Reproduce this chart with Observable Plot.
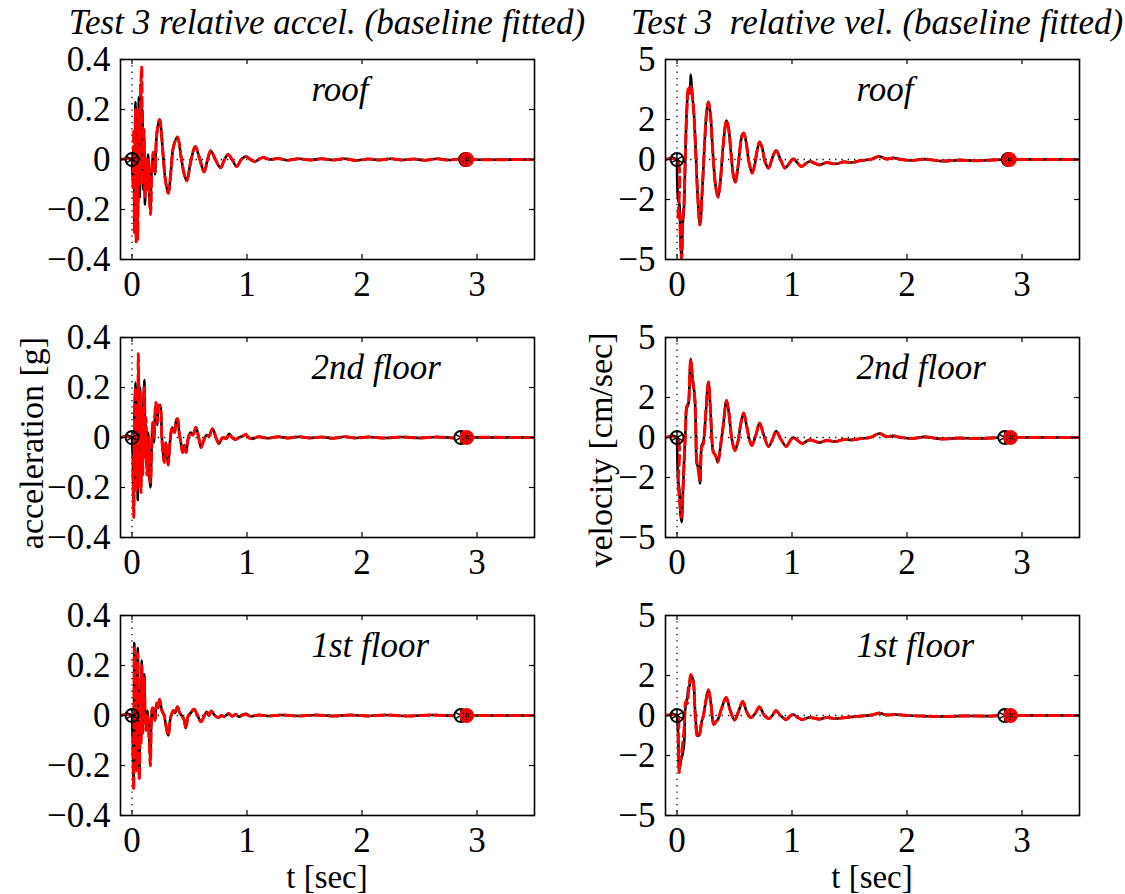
<!DOCTYPE html>
<html>
<head>
<meta charset="utf-8">
<script src="https://cdn.jsdelivr.net/npm/d3@7"></script>
<script src="https://cdn.jsdelivr.net/npm/@observablehq/plot@0.6"></script>
<style>
  body { margin: 0; background: #fff; }
  #fig { position: relative; width: 1125px; height: 894px; overflow: hidden; background: #fff; font-family: "Liberation Serif", serif; }
  .txt { position: absolute; font-size: 34px; line-height: 24px; white-space: pre; color: #000; font-family: "Liberation Serif", serif; }
  .xl { font-size: 33px; }
  .rot { line-height: 28px; }
  .ttl { font-size: 35px; line-height: 30px; font-style: italic; }
  .pan { position: absolute; }
  .pan text { font-family: "Liberation Serif", serif; }
</style>
</head>
<body>
<div id="fig"></div>
<script>
// ---------------- data (t [sec], value) ----------------
const xTicks = [0, 1, 2, 3];
const accTicks = [-0.4, -0.2, 0, 0.2, 0.4];
const velTicks = [-5, -2, 0, 2, 5];
const floorNames = ["roof", "2nd floor", "1st floor"];
const titles = ["Test 3 relative accel. (baseline fitted)", "Test 3  relative vel. (baseline fitted)"];
const yLabels = ["acceleration [g]", "velocity [cm/sec]"];
const xLabel = "t [sec]";

// end-of-record markers (t) : black / red
const accEndBlack = [2.90, 2.86, 2.86];
const accEndRed = [2.91, 2.91, 2.91];
const velEndBlack = [2.88, 2.85, 2.85];
const velEndRed = [2.89, 2.90, 2.90];

// ---- roof acceleration [g]
const roofAccEarlyBlack = [[0,0],[0.008,-0.1],[0.016,0.05],[0.022,-0.28],[0.03,0.23],[0.037,-0.3],[0.045,0.1],[0.052,-0.2],[0.06,0.25],[0.068,-0.15],[0.076,0.3],[0.083,0.05],[0.09,0.2],[0.097,-0.12],[0.105,0.08],[0.113,-0.18],[0.12,-0.02],[0.13,-0.1],[0.14,0.02],[0.15,-0.12],[0.16,-0.2],[0.17,-0.05],[0.185,0.02],[0.2,-0.06]];
const roofAccEarlyRed = [[-0.1,0],[0,0],[0.008,-0.12],[0.015,0.12],[0.022,-0.3],[0.03,0.2],[0.036,-0.33],[0.043,0.05],[0.05,-0.32],[0.058,0.2],[0.066,-0.1],[0.075,0.25],[0.084,0.37],[0.09,0.1],[0.097,-0.1],[0.105,0.12],[0.113,-0.15],[0.122,0.0],[0.132,-0.12],[0.142,0.0],[0.152,-0.15],[0.162,-0.22],[0.172,-0.05],[0.185,0.03],[0.2,-0.05]];
const roofAccTail = [[0.215,0.1],[0.24,0.16],[0.27,0.02],[0.29,-0.08],[0.315,-0.135],[0.34,-0.04],[0.36,0.05],[0.395,0.09],[0.43,0.0],[0.455,-0.06],[0.477,-0.085],[0.51,-0.01],[0.55,0.052],[0.59,0.0],[0.627,-0.05],[0.655,-0.005],[0.685,0.035],[0.725,0],[0.77,-0.033],[0.8,-0.005],[0.835,0.02],[0.87,0],[0.91,-0.028],[0.95,0],[0.99,0.012],[1.03,0],[1.07,-0.008],[1.1,0],[1.14,0.008],[1.2,0],[1.27,0.004],[1.35,-0.003],[1.45,0.003],[1.55,-0.002],[1.65,0.003],[1.75,-0.002],[1.85,0.003],[1.95,-0.004],[2.05,0.002],[2.15,-0.002],[2.25,0.003],[2.35,-0.002],[2.45,0.002],[2.55,-0.003],[2.65,0.003],[2.75,-0.002],[2.85,0.002],[2.92,0],[3.5,0]];

// ---- 2nd floor acceleration [g]
const fl2AccEarlyBlack = [[0,0],[0.008,-0.1],[0.015,-0.3],[0.022,0.1],[0.03,0.22],[0.036,-0.2],[0.043,0.15],[0.05,-0.25],[0.057,0.28],[0.064,0.0],[0.07,0.2],[0.078,-0.19],[0.086,0.12],[0.093,-0.1],[0.1,0.15],[0.107,0.23],[0.115,-0.05],[0.122,0.05],[0.13,-0.12],[0.14,0.02],[0.15,-0.15],[0.16,-0.2],[0.17,-0.05],[0.18,0.05],[0.19,-0.02],[0.2,0.08],[0.208,0.135],[0.22,0.05],[0.23,0.12],[0.245,0.13],[0.26,0.0],[0.28,-0.09]];
const fl2AccEarlyRed = [[-0.1,0],[0,0],[0.008,-0.15],[0.015,-0.32],[0.022,0.05],[0.03,0.2],[0.037,-0.22],[0.045,0.1],[0.05,-0.2],[0.055,0.335],[0.062,0.05],[0.07,0.18],[0.078,-0.22],[0.086,0.1],[0.093,-0.15],[0.1,0.12],[0.107,0.2],[0.115,-0.08],[0.122,0.08],[0.13,-0.15],[0.14,0.0],[0.15,-0.12],[0.16,-0.18],[0.17,-0.06],[0.18,0.06],[0.19,0.0],[0.2,0.1],[0.208,0.14],[0.22,0.06],[0.23,0.13],[0.245,0.12],[0.26,-0.01],[0.28,-0.1]];
const fl2AccTail = [[0.295,-0.02],[0.305,-0.06],[0.315,-0.11],[0.33,-0.02],[0.35,0.04],[0.37,0.02],[0.385,0.07],[0.396,0.075],[0.41,0.02],[0.425,-0.02],[0.44,-0.06],[0.455,-0.03],[0.47,-0.06],[0.49,0.0],[0.51,0.02],[0.53,0.01],[0.555,0.04],[0.58,0.0],[0.6,-0.04],[0.625,-0.01],[0.65,0.01],[0.67,0.005],[0.7,0.035],[0.73,0.0],[0.757,-0.025],[0.78,-0.005],[0.8,0.0],[0.82,-0.005],[0.845,0.015],[0.87,0.0],[0.9,-0.008],[0.93,0],[0.96,0.005],[0.99,0.012],[1.02,-0.002],[1.05,-0.005],[1.1,0.003],[1.18,-0.003],[1.27,0.003],[1.36,-0.002],[1.45,0.003],[1.55,-0.002],[1.65,0.002],[1.75,-0.003],[1.85,0.003],[1.95,-0.002],[2.05,0.002],[2.2,-0.002],[2.35,0.002],[2.5,-0.002],[2.65,0.002],[2.8,-0.002],[2.88,0],[3.5,0]];

// ---- 1st floor acceleration [g]
const fl1AccEarlyBlack = [[0,0],[0.008,-0.12],[0.015,-0.28],[0.02,0.29],[0.027,-0.1],[0.033,0.15],[0.04,-0.2],[0.05,0.27],[0.057,-0.05],[0.064,-0.24],[0.072,0.1],[0.078,-0.1],[0.085,0.22],[0.092,-0.05],[0.1,0.05],[0.107,0.165],[0.115,0.0],[0.125,-0.05],[0.135,0.02],[0.145,-0.05],[0.153,-0.12],[0.16,-0.18],[0.168,-0.02]];
const fl1AccEarlyRed = [[-0.1,0],[0,0],[0.008,-0.15],[0.015,-0.3],[0.02,0.27],[0.027,-0.12],[0.033,0.12],[0.04,-0.22],[0.05,0.25],[0.057,-0.08],[0.064,-0.26],[0.072,0.08],[0.078,-0.12],[0.085,0.2],[0.092,-0.08],[0.1,0.06],[0.107,0.15],[0.115,-0.02],[0.125,-0.06],[0.135,0.0],[0.145,-0.06],[0.153,-0.14],[0.16,-0.2],[0.168,-0.03]];
const fl1AccTail = [[0.178,0.03],[0.19,0.02],[0.2,-0.02],[0.215,0.05],[0.228,0.03],[0.24,0.065],[0.26,0.02],[0.28,0.0],[0.295,-0.04],[0.315,-0.08],[0.335,-0.01],[0.36,0.02],[0.375,0.01],[0.395,0.035],[0.415,0.01],[0.44,-0.005],[0.455,-0.02],[0.468,-0.05],[0.49,0.0],[0.51,0.01],[0.54,0.025],[0.57,0.0],[0.6,-0.025],[0.63,0.0],[0.65,0.015],[0.67,0.0],[0.69,0.018],[0.72,0.0],[0.75,-0.008],[0.78,0.0],[0.8,-0.005],[0.84,0.008],[0.87,-0.003],[0.9,0.004],[0.93,-0.005],[0.96,0.002],[0.99,0.006],[1.03,-0.003],[1.1,0.002],[1.2,-0.002],[1.3,0.002],[1.45,-0.002],[1.6,0.002],[1.75,-0.002],[1.9,0.002],[2.05,-0.002],[2.2,0.002],[2.4,-0.002],[2.6,0.002],[2.8,-0.001],[2.88,0],[3.5,0]];

// ---- roof velocity [cm/sec]
const roofVelEarlyBlack = [[0,0],[0.01,-2.0],[0.02,-2.2],[0.03,-3.8],[0.04,-4.95],[0.05,-3.2],[0.06,-2.5],[0.07,-0.5],[0.085,2.5],[0.1,3.5],[0.112,3.6],[0.12,4.23],[0.13,3.4],[0.145,2.5],[0.16,0.8]];
const roofVelEarlyRed = [[-0.1,0],[0,0],[0.01,-2.9],[0.02,-2.6],[0.03,-4.0],[0.04,-5.0],[0.05,-3.0],[0.06,-2.3],[0.07,-0.4],[0.085,2.4],[0.1,3.6],[0.112,3.3],[0.125,3.7],[0.135,3.1],[0.145,2.4],[0.16,0.8]];
const roofVelTail = [[0.18,-1.8],[0.2,-3.27],[0.22,-1.5],[0.24,0.8],[0.26,2.5],[0.273,2.87],[0.29,2.3],[0.31,0.5],[0.335,-1.3],[0.356,-1.88],[0.375,-1.2],[0.4,0.6],[0.42,1.7],[0.431,1.95],[0.45,1.5],[0.47,0.3],[0.49,-0.8],[0.506,-1.13],[0.525,-0.6],[0.545,0.4],[0.565,1.2],[0.58,1.32],[0.6,0.9],[0.625,-0.1],[0.653,-0.68],[0.675,-0.3],[0.695,0.4],[0.718,0.87],[0.74,0.6],[0.765,-0.1],[0.796,-0.43],[0.83,0.1],[0.862,0.45],[0.9,0.0],[0.94,-0.43],[0.975,-0.2],[1.01,0.03],[1.045,-0.15],[1.08,-0.35],[1.15,-0.1],[1.24,-0.27],[1.3,-0.15],[1.38,-0.22],[1.45,-0.12],[1.52,-0.15],[1.6,-0.05],[1.68,0.0],[1.76,0.15],[1.82,0.03],[1.88,0.08],[1.95,0.0],[2.05,-0.05],[2.15,0.02],[2.3,-0.08],[2.45,-0.03],[2.6,-0.06],[2.75,-0.02],[2.88,0],[3.5,0]];

// ---- 2nd floor velocity [cm/sec]
const fl2VelEarlyBlack = [[0,0],[0.01,-2.15],[0.02,-2.6],[0.03,-3.8],[0.04,-4.23],[0.05,-3.0],[0.063,-1.0],[0.075,0.5],[0.083,1.43],[0.1,1.7],[0.11,3.0],[0.12,3.93],[0.135,3.0],[0.155,2.0],[0.165,0.0],[0.172,-1.3],[0.185,-1.5],[0.2,-2.3],[0.215,-0.4],[0.23,-0.2]];
const fl2VelEarlyRed = [[-0.1,0],[0,0],[0.01,-2.4],[0.02,-2.9],[0.03,-3.6],[0.04,-4.0],[0.05,-2.8],[0.063,-1.2],[0.075,0.4],[0.083,1.5],[0.1,1.8],[0.11,3.1],[0.12,3.9],[0.135,2.9],[0.155,1.9],[0.165,-0.1],[0.172,-1.2],[0.185,-1.6],[0.2,-2.2],[0.215,-0.5],[0.23,-0.3]];
const fl2VelTail = [[0.25,1.2],[0.273,2.77],[0.29,1.5],[0.305,-0.2],[0.316,-0.73],[0.335,-0.9],[0.356,-1.23],[0.38,-0.35],[0.4,0.5],[0.431,1.85],[0.45,1.3],[0.475,0.0],[0.503,-0.65],[0.53,-0.2],[0.555,0.7],[0.58,1.22],[0.605,0.6],[0.63,-0.1],[0.65,-0.4],[0.685,0.1],[0.718,0.72],[0.75,0.2],[0.796,-0.45],[0.83,-0.1],[0.862,0.32],[0.9,-0.05],[0.95,-0.45],[0.98,-0.2],[1.01,0.0],[1.05,-0.15],[1.09,-0.3],[1.15,-0.12],[1.24,-0.25],[1.3,-0.15],[1.38,-0.2],[1.45,-0.1],[1.52,-0.12],[1.6,-0.05],[1.68,0.0],[1.76,0.2],[1.82,0.05],[1.88,0.08],[1.95,0.0],[2.05,-0.05],[2.15,0.03],[2.3,-0.07],[2.45,-0.03],[2.6,-0.05],[2.75,-0.02],[2.85,0],[3.5,0]];

// ---- 1st floor velocity [cm/sec]
const fl1VelEarlyBlack = [[0,0],[0.01,-1.0],[0.02,-2.7],[0.03,-2.4],[0.04,-2.1],[0.05,-1.9],[0.063,-1.3],[0.07,0.2],[0.078,0.6],[0.09,0.9],[0.1,1.4],[0.11,1.5],[0.12,2.0],[0.14,1.8],[0.155,0.5],[0.165,-0.4],[0.178,-1.0]];
const fl1VelEarlyRed = [[-0.1,0],[0,0],[0.01,-1.3],[0.02,-2.85],[0.03,-2.2],[0.04,-1.9],[0.05,-1.4],[0.063,-0.6],[0.07,0.5],[0.078,0.73],[0.09,0.6],[0.1,1.2],[0.11,1.7],[0.12,2.05],[0.14,1.7],[0.155,0.3],[0.165,-0.6],[0.178,-1.05]];
const fl1VelTail = [[0.19,-1.0],[0.2,-0.85],[0.215,-0.3],[0.23,0.0],[0.25,0.7],[0.273,1.28],[0.295,0.6],[0.32,-0.45],[0.34,-0.3],[0.356,-0.2],[0.39,0.4],[0.428,0.9],[0.46,0.3],[0.5,-0.23],[0.535,0.2],[0.572,0.7],[0.605,0.2],[0.64,-0.1],[0.68,0.1],[0.716,0.43],[0.76,0.0],[0.8,-0.15],[0.835,0.05],[0.86,0.25],[0.9,0.0],[0.95,-0.2],[0.98,-0.05],[1.01,0.05],[1.05,-0.1],[1.09,-0.2],[1.15,-0.1],[1.24,-0.18],[1.3,-0.1],[1.38,-0.15],[1.5,-0.08],[1.6,-0.03],[1.7,0.03],[1.76,0.12],[1.82,0.03],[1.9,0.05],[2.0,0.0],[2.15,-0.03],[2.3,-0.05],[2.5,-0.02],[2.7,-0.03],[2.85,0],[3.5,0]];

// ---------------- layout ----------------
const FW = 414, FH = 200;
const colLeft = [120, 665];
const rowTop = [59, 337, 615];
const mL = 118, mR = 12, mT = 14, mB = 52;
const SERIF = "Liberation Serif";
const TICKFS = 35;

const fig = document.getElementById("fig");
const minusFmt = d => (d < 0 ? "\u2212" + String(Math.abs(d)) : String(d));

function panel(col, row, black, red, yDomain, yTicks, endB, endR, name) {
  const tx = d => d[0], ty = d => d[1];
  const startPt = [[0, 0]];
  const endBPt = [[endB, 0]];
  const endRPt = [[endR, 0]];
  const p = Plot.plot({
    width: mL + FW + mR,
    height: mT + FH + mB,
    marginLeft: mL, marginRight: mR, marginTop: mT, marginBottom: mB,
    style: {fontFamily: SERIF, fontSize: TICKFS + "px", background: "transparent", overflow: "visible", color: "black"},
    x: {domain: [-0.1, 3.5]},
    y: {domain: yDomain},
    marks: [
      Plot.ruleY([0], {stroke: "black", strokeWidth: 1.3, strokeDasharray: "1.3,5"}),
      Plot.ruleX([0], {stroke: "black", strokeWidth: 1.3, strokeDasharray: "1.3,5"}),
      Plot.line(black, {x: tx, y: ty, stroke: "black", strokeWidth: 2.6, curve: "catmull-rom", clip: true}),
      Plot.line(red, {x: tx, y: ty, stroke: "#ff0000", strokeWidth: 3, strokeDasharray: "10,5", curve: "catmull-rom", clip: true}),
      // start marker (black circle + asterisk)
      Plot.dot(startPt, {x: tx, y: ty, r: 6.5, stroke: "black", strokeWidth: 2, fill: "none"}),
      Plot.dot(startPt, {x: tx, y: ty, r: 5.5, symbol: "asterisk", stroke: "black", strokeWidth: 1.4}),
      // end markers
      Plot.dot(endBPt, {x: tx, y: ty, r: 6.5, stroke: "black", strokeWidth: 2, fill: "white"}),
      Plot.dot(endBPt, {x: tx, y: ty, r: 5.5, symbol: "asterisk", stroke: "black", strokeWidth: 1.4}),
      Plot.dot(endRPt, {x: tx, y: ty, r: 6.5, stroke: "#ff0000", strokeWidth: 2, fill: "#ff0000"}),
      Plot.dot(endRPt, {x: tx, y: ty, r: 4.5, symbol: "asterisk", stroke: "black", strokeWidth: 1.2, strokeDasharray: "1.5,1.5"}),
      // frame and inward ticks on all sides
      Plot.frame({stroke: "black", strokeWidth: 1.6}),
      Plot.tickX(xTicks, {x: d => d, insetTop: FH - 5, stroke: "black", strokeWidth: 1.2}),
      Plot.tickX(xTicks, {x: d => d, insetBottom: FH - 5, stroke: "black", strokeWidth: 1.2}),
      Plot.tickY(yTicks, {y: d => d, insetRight: FW - 5, stroke: "black", strokeWidth: 1.2}),
      Plot.tickY(yTicks, {y: d => d, insetLeft: FW - 5, stroke: "black", strokeWidth: 1.2}),
      Plot.axisX({ticks: xTicks, tickSize: 0, tickPadding: 12, label: null, tickFormat: d => String(d), fontSize: TICKFS, fontFamily: SERIF}),
      Plot.axisY({ticks: yTicks, tickSize: 0, tickPadding: 10, label: null, tickFormat: minusFmt, fontSize: TICKFS, fontFamily: SERIF}),
      Plot.text([name], {frameAnchor: "top-left", dx: 191, dy: 17, lineAnchor: "top", textAnchor: "start", fontStyle: "italic", fontSize: 35, fontFamily: SERIF})
    ]
  });
  p.classList.add("pan");
  p.style.left = (colLeft[col] - mL) + "px";
  p.style.top = (rowTop[row] - mT) + "px";
  fig.appendChild(p);
}

const accData = [
  [roofAccEarlyBlack.concat(roofAccTail), roofAccEarlyRed.concat(roofAccTail)],
  [fl2AccEarlyBlack.concat(fl2AccTail), fl2AccEarlyRed.concat(fl2AccTail)],
  [fl1AccEarlyBlack.concat(fl1AccTail), fl1AccEarlyRed.concat(fl1AccTail)]
];
const velData = [
  [roofVelEarlyBlack.concat(roofVelTail), roofVelEarlyRed.concat(roofVelTail)],
  [fl2VelEarlyBlack.concat(fl2VelTail), fl2VelEarlyRed.concat(fl2VelTail)],
  [fl1VelEarlyBlack.concat(fl1VelTail), fl1VelEarlyRed.concat(fl1VelTail)]
];

for (let r = 0; r < 3; r++) {
  panel(0, r, accData[r][0], accData[r][1], [-0.4, 0.4], accTicks, accEndBlack[r], accEndRed[r], floorNames[r]);
  panel(1, r, velData[r][0], velData[r][1], [-5, 5], velTicks, velEndBlack[r], velEndRed[r], floorNames[r]);
}

// ---------------- titles and axis labels ----------------
function addText(str, x, y, cls, rotate) {
  const d = document.createElement("div");
  d.className = "txt " + (cls || "");
  d.textContent = str;
  d.style.left = x + "px";
  d.style.top = y + "px";
  d.style.transform = rotate ? "translate(-50%,-50%) rotate(-90deg)" : "translate(-50%,0)";
  fig.appendChild(d);
}
addText(titles[0], 327, 8, "ttl");
addText(titles[1], 877, 8, "ttl");
addText(xLabel, 327, 865, "xl");
addText(xLabel, 872, 865, "xl");
addText(yLabels[0], 32, 443, "rot", true);
addText(yLabels[1], 601, 450, "rot", true);
</script>
</body>
</html>
